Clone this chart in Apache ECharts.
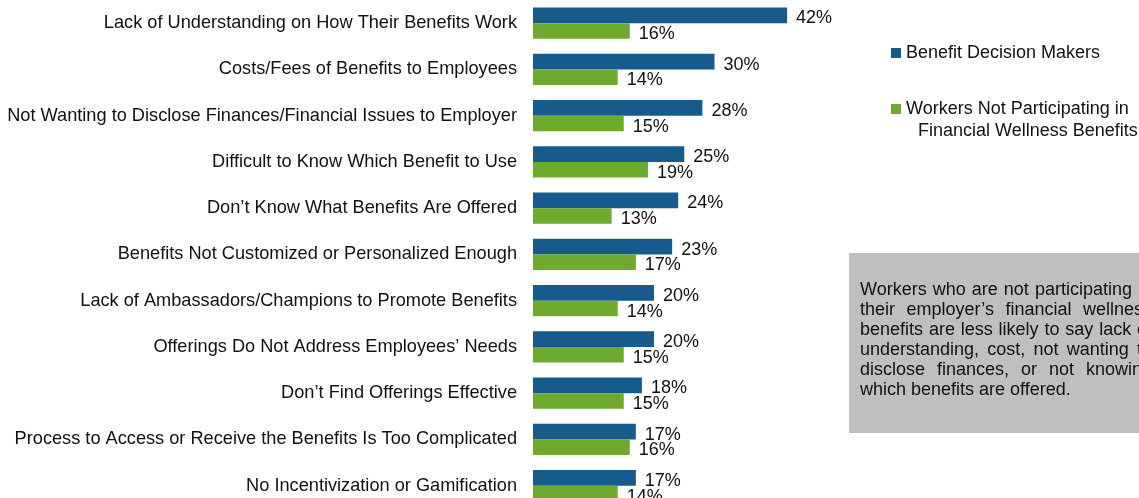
<!DOCTYPE html>
<html>
<head>
<meta charset="utf-8">
<script src="https://cdn.jsdelivr.net/npm/echarts@6/dist/echarts.min.js"></script>
<style>
  html, body { margin: 0; padding: 0; background: #fff; }
  #chart { width: 1139px; height: 498px; }
</style>
</head>
<body>
<div id="chart"></div>
<script>
// Barriers to using financial wellness benefits
const categories = [
  'Lack of Understanding on How Their Benefits Work',
  'Costs/Fees of Benefits to Employees',
  'Not Wanting to Disclose Finances/Financial Issues to Employer',
  'Difficult to Know Which Benefit to Use',
  'Don\u2019t Know What Benefits Are Offered',
  'Benefits Not Customized or Personalized Enough',
  'Lack of Ambassadors/Champions to Promote Benefits',
  'Offerings Do Not Address Employees\u2019 Needs',
  'Don\u2019t Find Offerings Effective',
  'Process to Access or Receive the Benefits Is Too Complicated',
  'No Incentivization or Gamification'
];
const decisionMakers = [42, 30, 28, 25, 24, 23, 20, 20, 18, 17, 17];
const nonParticipants = [16, 14, 15, 19, 13, 17, 14, 15, 15, 16, 14];

const seriesNames = ['Benefit Decision Makers', 'Workers Not Participating in Financial Wellness Benefits'];

const noteLines = [
  'Workers who are not participating in',
  'their employer\u2019s financial wellness',
  'benefits are less likely to say lack of',
  'understanding, cost, not wanting to',
  'disclose finances, or not knowing',
  'which benefits are offered.'
];

const FONT = '"Liberation Sans", Arial, Helvetica, sans-serif';
const TEXT_COLOR = '#111';
const BLUE = '#175B8D';
const GREEN = '#6EAA2E';

// Justified paragraph inside the grey call-out box
function buildNote(x, y, width, lineHeight, size) {
  const ctx = document.createElement('canvas').getContext('2d');
  ctx.font = size + 'px ' + FONT;
  const els = [];
  const textEl = (tx, ty, str) => ({
    type: 'text', x: tx, y: ty, z: 10,
    style: { text: str, font: size + 'px ' + FONT, fill: TEXT_COLOR, verticalAlign: 'middle' }
  });
  noteLines.forEach((line, i) => {
    const cy = y + i * lineHeight;
    const words = line.split(' ');
    const last = i === noteLines.length - 1;
    if (last || words.length < 2) {
      els.push(textEl(x, cy, line));
      return;
    }
    const widths = words.map(w => ctx.measureText(w).width);
    const total = widths.reduce((a, b) => a + b, 0);
    const gap = (width - total) / (words.length - 1);
    let cx = x;
    words.forEach((w, k) => {
      els.push(textEl(cx, cy, w));
      cx += widths[k] + gap;
    });
  });
  return els;
}

const chart = echarts.init(document.getElementById('chart'), null, { renderer: 'canvas' });

const labelStyle = {
  show: true,
  position: 'right',
  distance: 9,
  offset: [0, 3.2],
  formatter: '{c}%',
  fontFamily: FONT,
  fontSize: 18,
  color: TEXT_COLOR
};

chart.setOption({
  animation: false,
  backgroundColor: '#fff',
  textStyle: { fontFamily: FONT },
  grid: {
    left: 533, top: 0, width: 302.5, height: 508.75,
    containLabel: false,
    outerBoundsMode: 'none'
  },
  xAxis: {
    type: 'value',
    min: 0,
    max: 50,
    show: false
  },
  yAxis: {
    type: 'category',
    data: categories,
    inverse: true,
    axisLine: { show: false },
    axisTick: { show: false },
    splitLine: { show: false },
    axisLabel: {
      margin: 16,
      padding: [4, 0, 0, 0],
      fontFamily: FONT,
      fontSize: 18.2,
      color: TEXT_COLOR
    }
  },
  legend: [
    {
      data: [seriesNames[0]],
      left: 891,
      top: 44,
      padding: 0,
      icon: 'rect',
      itemWidth: 10,
      itemHeight: 10,
      textStyle: { fontFamily: FONT, fontSize: 18, color: TEXT_COLOR }
    },
    {
      data: [seriesNames[1]],
      left: 891,
      top: 100,
      padding: 0,
      icon: 'rect',
      itemWidth: 10,
      itemHeight: 10,
      formatter: () => 'Workers Not Participating in',
      textStyle: { fontFamily: FONT, fontSize: 18, color: TEXT_COLOR }
    }
  ],
  graphic: [
    {
      type: 'text',
      left: 918,
      top: 122,
      style: { text: 'Financial Wellness Benefits', font: '18px ' + FONT, fill: TEXT_COLOR }
    },
    {
      type: 'rect',
      shape: { x: 849, y: 253, width: 320, height: 180 },
      style: { fill: '#BFBFBF' },
      z: 1
    },
    {
      type: 'group',
      z: 10,
      children: buildNote(860, 290.5, 292, 20, 18)
    }
  ],
  series: [
    {
      name: seriesNames[0],
      type: 'bar',
      data: decisionMakers,
      barWidth: 15.6,
      barGap: '0%',
      itemStyle: { color: BLUE },
      label: labelStyle
    },
    {
      name: seriesNames[1],
      type: 'bar',
      data: nonParticipants,
      barWidth: 15.6,
      barGap: '0%',
      itemStyle: { color: GREEN },
      label: labelStyle
    }
  ]
});
</script>
</body>
</html>
